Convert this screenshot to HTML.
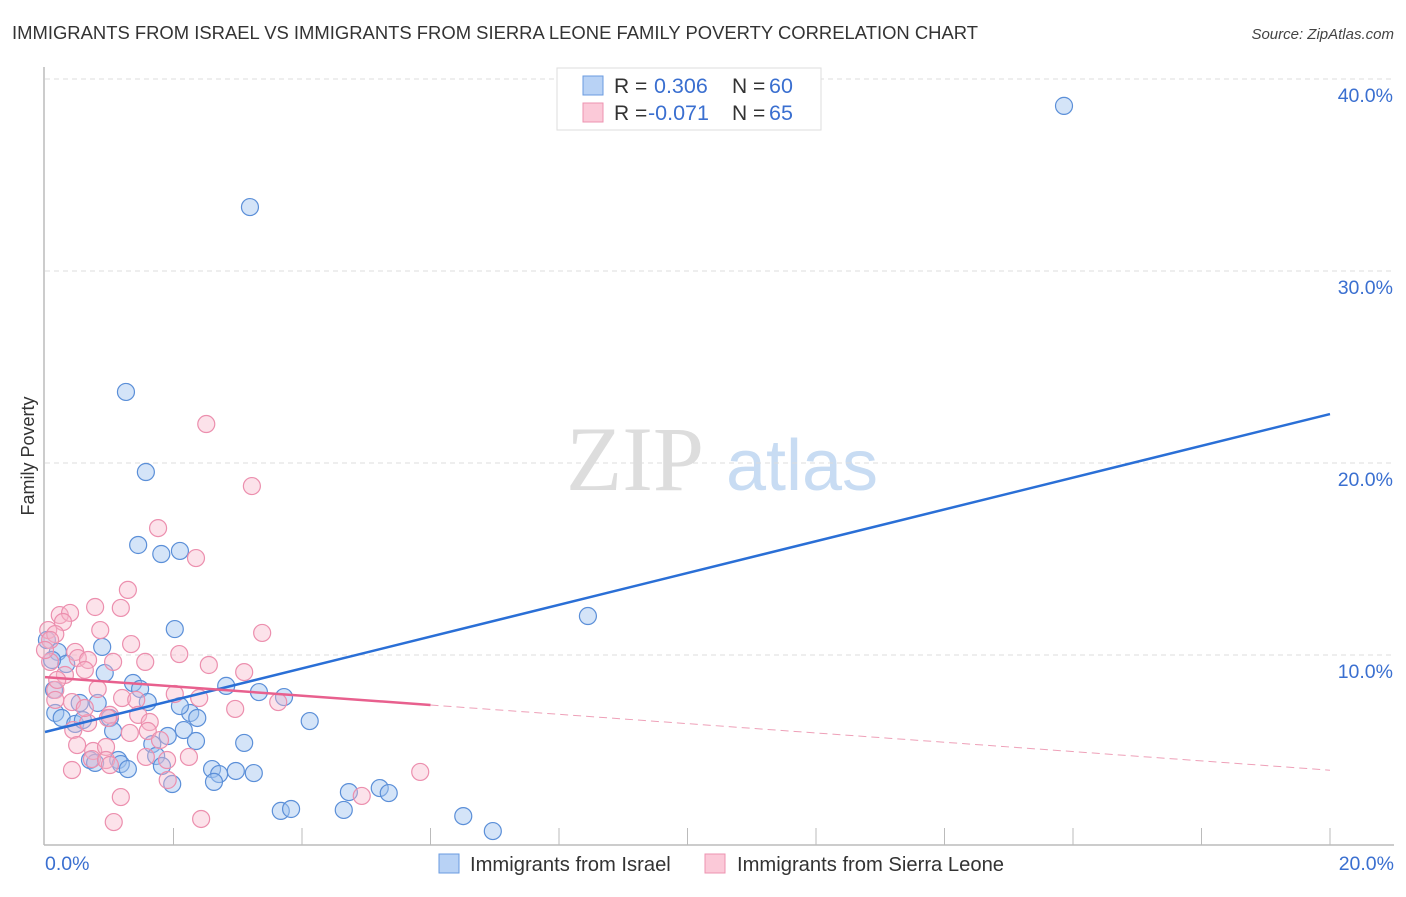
<!DOCTYPE html>
<html><head><meta charset="utf-8"><style>
body{margin:0;background:#fff;font-family:"Liberation Sans",sans-serif}
</style></head><body>
<svg id="chart" width="1406" height="892" xmlns="http://www.w3.org/2000/svg" font-family="Liberation Sans, sans-serif">
<text x="12" y="39" font-size="18" fill="#333" textLength="966" lengthAdjust="spacingAndGlyphs">IMMIGRANTS FROM ISRAEL VS IMMIGRANTS FROM SIERRA LEONE FAMILY POVERTY CORRELATION CHART</text>
<text x="1394" y="39" font-size="15" fill="#444" text-anchor="end" font-style="italic">Source: ZipAtlas.com</text>
<text transform="translate(34,456) rotate(-90)" font-size="18" fill="#333" text-anchor="middle">Family Poverty</text>
<g>
<text x="635" y="490" font-size="92" fill="#ddd" font-family="Liberation Serif, serif" text-anchor="middle">ZIP</text>
<text x="802" y="490" font-size="72" fill="#c8dcf3" text-anchor="middle">atlas</text>
</g>
<g id="grid"></g>
<g id="axes"></g>
<g id="pts"></g>
<g id="lines"></g>
<g>
<rect x="557" y="68" width="264" height="62" fill="#fff" stroke="#ddd"/>
<rect x="583" y="76" width="20" height="19" fill="#b8d2f5" stroke="#6a9be0"/>
<rect x="583" y="103" width="20" height="19" fill="#fbc9d8" stroke="#ee93b0"/>
<text x="614" y="93" font-size="21" fill="#333">R = </text><text x="654" y="93" font-size="21.5" fill="#3a6fd0">0.306</text>
<text x="732" y="93" font-size="21" fill="#333">N = </text><text x="769" y="93" font-size="21.5" fill="#3a6fd0">60</text>
<text x="614" y="120" font-size="21" fill="#333">R = </text><text x="648" y="120" font-size="21.5" fill="#3a6fd0">-0.071</text>
<text x="732" y="120" font-size="21" fill="#333">N = </text><text x="769" y="120" font-size="21.5" fill="#3a6fd0">65</text>
</g>
<g>
<rect x="439" y="854" width="20" height="19" fill="#b8d2f5" stroke="#6a9be0"/>
<text x="470" y="871" font-size="20.2" fill="#333">Immigrants from Israel</text>
<rect x="705" y="854" width="20" height="19" fill="#fbc9d8" stroke="#ee93b0"/>
<text x="737" y="871" font-size="20.2" fill="#333">Immigrants from Sierra Leone</text>
</g>
</svg>
<script>
const yTicks=[10,20,30,40];
const yTickLabels=["10.0%","20.0%","30.0%","40.0%"];
const xTickLabels=["0.0%","20.0%"];
const israelX=[15.86,3.19,1.26,1.57,1.45,1.81,2.10,2.02,8.45,0.89,0.20,0.33,0.93,1.37,1.48,1.60,2.82,3.33,3.72,4.12,0.16,0.26,0.54,0.82,0.47,0.59,1.01,1.06,2.26,2.37,2.16,1.91,2.35,3.10,1.67,1.73,0.70,0.78,1.14,1.18,1.29,1.82,2.60,2.71,2.97,3.25,2.63,1.98,4.73,5.21,5.35,3.67,3.83,4.65,6.51,6.97,0.14,0.11,0.03,2.10];
const israelY=[38.6,33.33,23.7,19.53,15.73,15.26,15.42,11.35,12.03,10.42,10.16,9.53,9.06,8.54,8.23,7.55,8.39,8.07,7.81,6.56,6.98,6.72,7.5,7.5,6.41,6.61,6.72,6.04,6.98,6.72,6.09,5.78,5.52,5.42,5.36,4.74,4.53,4.38,4.53,4.32,4.06,4.22,4.06,3.8,3.96,3.85,3.39,3.28,2.86,3.07,2.81,1.88,1.98,1.93,1.61,0.83,8.18,9.74,10.78,7.34];
const sierraX=[2.51,3.22,1.76,2.35,1.29,0.78,1.18,0.23,0.39,0.28,0.05,0.16,0.08,3.38,0.86,1.34,0.47,0.51,0.67,1.06,0.62,0.31,1.56,2.09,2.55,3.10,0.82,1.20,1.42,2.02,2.40,3.63,0.16,0.42,1.01,1.45,1.63,1.60,0.98,0.44,0.67,0.50,0.75,0.95,0.73,0.95,1.01,1.57,2.24,1.91,5.84,1.18,4.93,0.42,1.07,2.43,0.19,0.08,0.00,2.96,1.79,0.62,1.90,0.16,1.32];
const sierraY=[22.03,18.8,16.61,15.05,13.39,12.5,12.45,12.08,12.19,11.72,11.3,11.09,10.78,11.15,11.3,10.57,10.16,9.84,9.74,9.64,9.22,8.96,9.64,10.05,9.48,9.11,8.23,7.76,7.66,7.97,7.76,7.55,8.18,7.55,6.88,6.88,6.51,6.04,6.72,6.09,6.46,5.31,5.0,5.21,4.58,4.53,4.27,4.69,4.69,3.49,3.91,2.6,2.66,4.01,1.3,1.46,8.7,9.64,10.26,7.19,5.57,7.24,4.53,7.66,5.94];
const israelTrend=[5.99,22.55];
const sierraTrend=[8.85,4.0];
const sierraSolidEnd=6.0;
const NS="http://www.w3.org/2000/svg";
const xs=v=>45+v*64.25, ys=v=>847-v*19.2;
function mk(tag,attrs,parent){const e=document.createElementNS(NS,tag);for(const k in attrs)e.setAttribute(k,attrs[k]);document.getElementById(parent).appendChild(e);return e;}
yTicks.forEach((t,i)=>{
 const g=mk('line',{x1:45,x2:1394,y1:ys(t),y2:ys(t),stroke:'#ddd','stroke-dasharray':'5,4'},'grid');
 
 
 const l=mk('text',{x:1393,y:ys(t)+23,'font-size':19.5,fill:'#3a6fd0','text-anchor':'end'},'grid');
 l.textContent=yTickLabels[i];
 
 
});
const ax=mk('line',{x1:44,x2:44,y1:67,y2:845,stroke:'#bbb','stroke-width':1.5},'axes');


const bx=mk('line',{x1:44,x2:1394,y1:845,y2:845,stroke:'#bbb','stroke-width':1.5},'axes');


for(let i=1;i<=10;i++){const t=mk('line',{x1:xs(i*2),x2:xs(i*2),y1:828,y2:845,stroke:'#bbb'},'axes');
 
 }
[[0,'start',45],[20,'end',1394]].forEach((d,i)=>{const t=mk('text',{x:d[2],y:870,'font-size':19.5,fill:'#3a6fd0','text-anchor':d[1]},'axes');t.textContent=xTickLabels[i];
 
 });
israelX.forEach((x,i)=>{const c=mk('circle',{cx:xs(x),cy:ys(israelY[i]),r:8.5,fill:'rgba(160,196,240,0.45)',stroke:'#5b8fd8','stroke-width':1.2},'pts');
 
 });
sierraX.forEach((x,i)=>{const c=mk('circle',{cx:xs(x),cy:ys(sierraY[i]),r:8.5,fill:'rgba(248,182,202,0.4)',stroke:'#ec8fae','stroke-width':1.2},'pts');
 
 });
const bl=mk('line',{x1:xs(0),y1:ys(israelTrend[0]),x2:xs(20),y2:ys(israelTrend[1]),stroke:'#2a6fd6','stroke-width':2.5},'lines');


const sy=v=>sierraTrend[0]+(sierraTrend[1]-sierraTrend[0])*v/20;
const pl=mk('line',{x1:xs(0),y1:ys(sy(0)),x2:xs(sierraSolidEnd),y2:ys(sy(sierraSolidEnd)),stroke:'#e8608e','stroke-width':2.5},'lines');


const pd=mk('line',{x1:xs(sierraSolidEnd),y1:ys(sy(sierraSolidEnd)),x2:xs(20),y2:ys(sy(20)),stroke:'#eea0b8','stroke-width':1,'stroke-dasharray':'8,5'},'lines');


</script>
</body></html>
